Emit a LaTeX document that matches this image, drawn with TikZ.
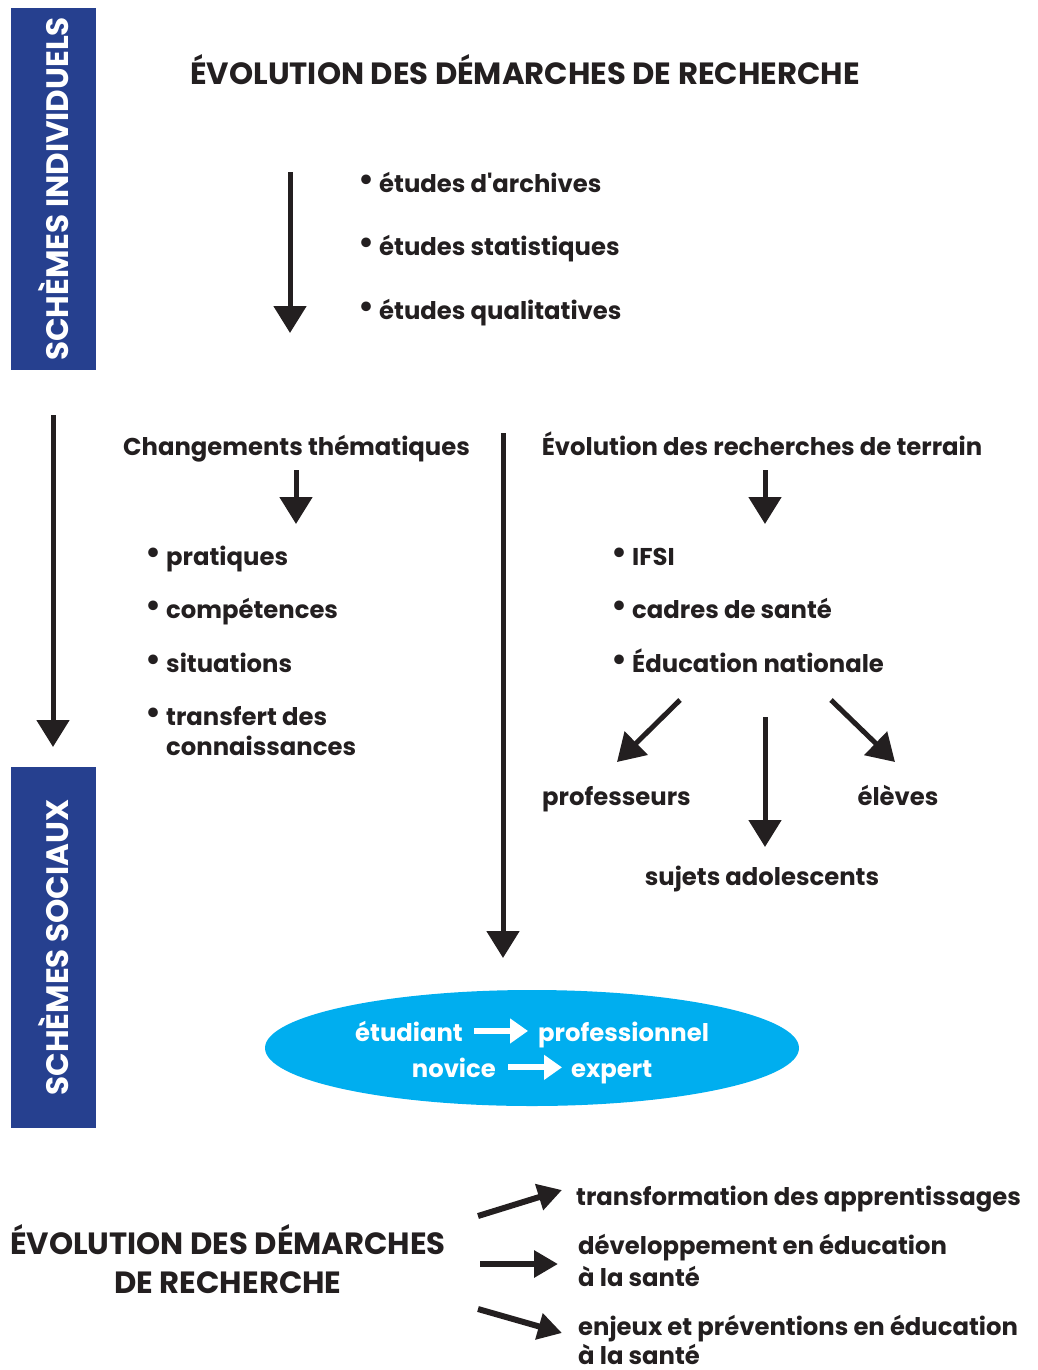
\documentclass[tikz,border=0pt]{standalone}
\usepackage{fontspec}
\setmainfont{Poppins}
\usetikzlibrary{positioning}
\usetikzlibrary{arrows.meta}
\usetikzlibrary{shapes.geometric}
\definecolor{ink}{HTML}{231F20}
\definecolor{schemeblue}{HTML}{26408F}
\definecolor{ovalcyan}{HTML}{00AEEF}
\newcommand{\puce}{\raisebox{2pt}{\fontsize{32}{32}\selectfont\textbullet}\hspace{5pt}}

\begin{document}
\begin{tikzpicture}[x=1pt, y=-1pt,
  body/.style={font=\fontsize{24.3}{30}\selectfont\bfseries, text=ink, inner sep=0pt},
  head/.style={font=\fontsize{30.7}{39}\selectfont\bfseries, text=ink, inner sep=0pt},
  band/.style={fill=schemeblue, text=white, rotate=90, inner sep=0pt,
    minimum height=85pt, font=\fontsize{31}{34}\selectfont\bfseries},
  arr/.style={draw=ink, line width=5pt, -{Triangle[width=32pt, length=27pt]}},
  thickarr/.style={draw=ink, line width=6pt, -{Triangle[width=26pt, length=24pt]}},
  whitearr/.style={draw=white, line width=6pt, -{Triangle[width=24pt, length=18pt]}}]
  \useasboundingbox (0,0) rectangle (1038,1370);

  % blue bands
  \node[band, minimum width=362pt] (indiv) at (53.5,189) {SCHÈMES INDIVIDUELS};
  \node[band, minimum width=361pt] (social) at (53.5,947.5) {SCHÈMES SOCIAUX};

  \node[head, anchor=base] (title) at (525,85) {ÉVOLUTION DES DÉMARCHES DE RECHERCHE};

  \node[body, anchor=base west] (archives) at (358,192) {\puce études d\textquotesingle archives};
  \node[body, anchor=base west] (stats) at (358,255) {\puce études statistiques};
  \node[body, anchor=base west] (quali) at (358,319) {\puce études qualitatives};

  \coordinate (topstart) at (290,172);
  \coordinate (topend) at (290,333);
  \draw[arr] (topstart) -- (topend);

  \coordinate (leftstart) at (53,415);
  \coordinate (leftend) at (53,747);
  \draw[arr] (leftstart) -- (leftend);

  % themes
  \node[body, anchor=base] (themes) at (296.5,455) {Changements thématiques};
  \coordinate (themesend) at (296,524);
  \draw[arr] (themesend |- 0,470) -- (themesend);

  \node[body, anchor=base west] (pratiques) at (145,565) {\puce pratiques};
  \node[body, anchor=base west] (competences) at (145,618) {\puce compétences};
  \node[body, anchor=base west] (situations) at (145,672) {\puce situations};
  \node[body, anchor=base west, align=left] (transfert) at (145,755)
    {\puce transfert des\\\phantom{\puce}connaissances};

  \coordinate (midstart) at (503,433);
  \coordinate (midend) at (503,958);
  \draw[arr] (midstart) -- (midend);

  % terrain
  \node[body, anchor=base] (terrain) at (762,455) {Évolution des recherches de terrain};
  \coordinate (terrainend) at (765,524);
  \draw[arr] (terrainend |- 0,470) -- (terrainend);

  \node[body, anchor=base west] (ifsi) at (611,565) {\puce IFSI};
  \node[body, anchor=base west] (cadres) at (611,618) {\puce cadres de santé};
  \node[body, anchor=base west] (educnat) at (611,672) {\puce Éducation nationale};

  \node[body, anchor=base] (profs) at (616.5,805) {professeurs};
  \node[body, anchor=base] (eleves) at (898,805) {élèves};
  \node[body, anchor=base] (ados) at (762,885) {sujets adolescents};

  \coordinate (splitleft) at (680,700);
  \coordinate (splitmid) at (765,717);
  \coordinate (splitright) at (831,700);
  \draw[arr] (splitleft) -- (617,762);
  \draw[arr] (splitmid) -- (765,847);
  \draw[arr] (splitright) -- (895,762);

  % oval
  \node[ellipse, fill=ovalcyan, minimum width=534pt, minimum height=116pt, inner sep=0pt] (oval) at (532,1048) {};
  \node[body, text=white, anchor=base east] (etudiant) at (463,1041) {étudiant};
  \node[body, text=white, anchor=base west] (pro) at (538,1041) {professionnel};
  \node[body, text=white, anchor=base east] (novice) at (496,1077) {novice};
  \node[body, text=white, anchor=base west] (expert) at (571,1077) {expert};
  \draw[whitearr] ([xshift=11pt]etudiant.east) -- ([xshift=-10pt]etudiant.east -| pro.west);
  \draw[whitearr] ([xshift=12pt]novice.east) -- ([xshift=-9pt]novice.east -| expert.west);

  % outcomes
  \node[head, anchor=base, align=center] (recap) at (228,1293)
    {ÉVOLUTION DES DÉMARCHES\\DE RECHERCHE};
  \node[body, anchor=base west] (transfo) at (576,1205) {transformation des apprentissages};
  \node[body, anchor=base west, align=left, font=\fontsize{24.3}{32}\selectfont\bfseries] (devel) at (578,1286)
    {développement en éducation\\à la santé};
  \node[body, anchor=base west, align=left, font=\fontsize{24.3}{29}\selectfont\bfseries] (enjeux) at (578,1364)
    {enjeux et préventions en éducation\\à la santé};

  \draw[thickarr] (478,1216) -- (562,1190);
  \draw[thickarr] (480,1264) -- (558,1264);
  \draw[thickarr] (478,1309) -- (562,1333);
\end{tikzpicture}
\end{document}
